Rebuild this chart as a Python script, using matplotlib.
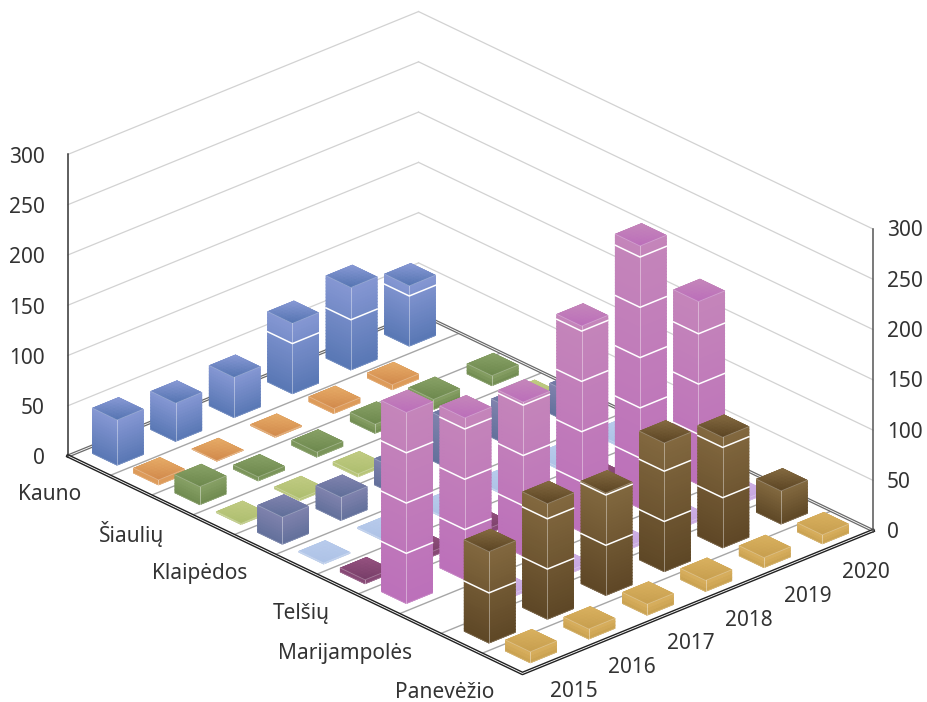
import matplotlib
matplotlib.use('Agg')
import matplotlib.pyplot as plt
import numpy as np
from matplotlib.colors import to_rgb
from mpl_toolkits.mplot3d import proj3d
from mpl_toolkits.mplot3d.art3d import Poly3DCollection

plt.rcParams['font.family'] = ['Noto Sans', 'DejaVu Sans']

years = ['2015', '2016', '2017', '2018', '2019', '2020']
z_ticks = [0, 50, 100, 150, 200, 250, 300]
row_labels = ['Kauno', '', 'Šiaulių', '', 'Klaipėdos', '', 'Telšių', '', 'Marijampolės', '', 'Panevėžio']

r00 = [45, 38, 40, 70, 82, 60]
r01 = [5, 0.5, 1, 5, 5, 0]
r02 = [18, 4, 5, 9, 10, 10]
r03 = [1, 2, 3, 4, 3, 3]
r04 = [27, 23, 26, 48, 38, 30]
r05 = [1, 1, 1, 1, 2, 2]
r06 = [4, 5, 5, 5, 5, 4]
r07 = [190, 161, 153, 205, 261, 182]
r08 = [0, 3, 3, 3, 3, 3]
r09 = [91, 115, 102, 128, 110, 33]
r10 = [11, 10, 11, 11, 10, 9]
rows = [r00, r01, r02, r03, r04, r05, r06, r07, r08, r09, r10]

light = ['#8597d3', '#e6aa66', '#87a065', '#c0cb82', '#7f82ad', '#b8cbec',
         '#94517f', '#c485ba', '#d0b2e6', '#82683f', '#d8b05e']
dark = ['#5877b4', '#d38c4e', '#6f8a4f', '#afbf70', '#62709b', '#aec3e6',
        '#7a3f6a', '#bc70ba', '#c5a4de', '#5e4726', '#c9a050']

width = 0.45
depth = 0.6
n_r = len(rows)
n_y = len(years)


def mix(c1, c2, t):
    a = np.array(to_rgb(c1))
    b = np.array(to_rgb(c2))
    return tuple(a + (b - a) * t)


def draw_bar(ax, xc, yc, h, c1, c2, zo):
    x0, x1 = xc - width / 2, xc + width / 2
    y0, y1 = yc - depth / 2, yc + depth / 2
    # sides, in thin slices so that they fade downwards
    n = max(1, int(h / 3))
    edges = np.linspace(0, h, n + 1)
    for k in range(n):
        c = mix(c2, c1, (k + 0.5) / n)
        ax.bar3d(x0, y0, edges[k], width, depth, edges[k + 1] - edges[k], color=c,
                 shade=False, edgecolor=c, linewidth=0.4, zorder=zo)
        zo += 1
    # white contour at every z tick
    for v in z_ticks[1:]:
        if v < h:
            ax.plot([x0, x0, x1], [y1, y0, y0], [v, v, v], color='white', lw=1.1, zorder=zo)
            zo += 1
    # top, lighter at the back
    m = 7
    cells = []
    cols = []
    xs = np.linspace(x0, x1, m + 1)
    ys = np.linspace(y0, y1, m + 1)
    for i in range(m):
        for j in range(m):
            cells.append([(xs[i], ys[j], h), (xs[i + 1], ys[j], h),
                          (xs[i + 1], ys[j + 1], h), (xs[i], ys[j + 1], h)])
            cols.append(mix(c2, c1, (i + j) / (2 * m - 2)))
    ax.add_collection3d(Poly3DCollection(cells, facecolors=cols, edgecolors=cols,
                                         linewidths=0.3, zorder=zo))
    zo += 1
    # pale edges
    ax.plot([x0, x0], [y0, y0], [0, h], color='white', lw=0.7, alpha=0.4, zorder=zo)
    ax.plot([x0, x0, x1], [y1, y0, y0], [h, h, h], color='white', lw=0.6, alpha=0.3, zorder=zo)
    ax.plot([x0, x0, x1], [y1, y0, y0], [0, 0, 0], color='white', lw=0.6, alpha=0.2, zorder=zo)
    return zo + 1


fig = plt.figure(figsize=(9.27, 7.02), dpi=100)
ax = fig.add_subplot(projection='3d', computed_zorder=False)
ax.set_proj_type('ortho')
ax.view_init(elev=26.2, azim=-132.7)
ax.set_box_aspect((477.6, 671, 336.6))
xlo, xhi = -0.5, n_y - 0.5
ylo, yhi = -0.5, n_r - 0.5
ax.set_xlim(xlo, xhi, view_margin=0)
ax.set_ylim(ylo, yhi, view_margin=0)
ax.set_zlim(0, 300, view_margin=0)
ax.set_axis_off()

# put the floor corners where they belong in the 927x702 picture
M = ax.get_proj()
Xl, Yl, _ = proj3d.proj_transform(xlo, yhi, 0, M)
Xr, Yr, _ = proj3d.proj_transform(xhi, ylo, 0, M)
s = (873 - 68) / (Xr - Xl)
vx = ax.viewLim.intervalx
vy = ax.viewLim.intervaly
side = s * (vx[1] - vx[0])
left = 68 - s * (Xl - vx[0])
bottom = (702 - 456) - s * (Yl - vy[0])
ax.set_position([left / 927, bottom / 702, side / 927, side / 702])


def label(x, y, z, dx, dy, text, ha):
    # 2D text pinned to a 3D point, dx and dy in pixels
    X, Y, _ = proj3d.proj_transform(x, y, z, M)
    px = left + s * (X - vx[0]) + dx
    py = bottom + s * (Y - vy[0]) + dy
    fig.text(px / 927, py / 702, text, color='#333333', fontsize=15, ha=ha, va='center')


# walls
grid_c = '#d2d2d2'
for v in z_ticks[1:]:
    ax.plot([xlo, xhi], [yhi, yhi], [v, v], color=grid_c, lw=0.9, zorder=1)
    ax.plot([xhi, xhi], [yhi, ylo], [v, v], color=grid_c, lw=0.9, zorder=1)

# floor lines between the rows
for i in range(1, n_r):
    ax.plot([xlo, xhi], [i - 0.5, i - 0.5], [0, 0], color='#a6a6a6', lw=1.0, zorder=2)

# floor rim and the two value axes
ax.plot([xlo, xhi, xhi], [yhi, yhi, ylo], [0, 0, 0], color='#6a6a6a', lw=2.4, zorder=3)
ax.plot([xlo, xhi, xhi], [yhi, yhi, ylo], [0, 0, 0], color='white', lw=0.6, zorder=3)
ax.plot([xlo, xlo, xhi], [yhi, ylo, ylo], [0, 0, 0], color='#222222', lw=2.6, zorder=4)
ax.plot([xlo, xlo, xhi], [yhi, ylo, ylo], [0, 0, 0], color='white', lw=0.6, zorder=4)
ax.plot([xlo, xlo], [yhi, yhi], [0, 300], color='#333333', lw=1.1, zorder=5)
ax.plot([xhi, xhi], [ylo, ylo], [0, 300], color='#555555', lw=1.1, zorder=5)

# bars, back to front
zo = 10
for r in range(n_r):
    for k in range(n_y - 1, -1, -1):
        if rows[r][k] > 0:
            zo = draw_bar(ax, k, n_r - 1 - r, rows[r][k], light[r], dark[r], zo)

# text
for v in z_ticks:
    label(xlo, yhi, v, -23, -3, str(v), 'right')
    label(xhi, ylo, v, 14, -2, str(v), 'left')
for r, lab in enumerate(row_labels):
    if lab:
        label(xlo, n_r - 1 - r, 0, -7, -29, lab, 'right')
for k, lab in enumerate(years):
    label(k, ylo, 0, 22, -30, lab, 'center')

fig.savefig('out.png', dpi=100)
